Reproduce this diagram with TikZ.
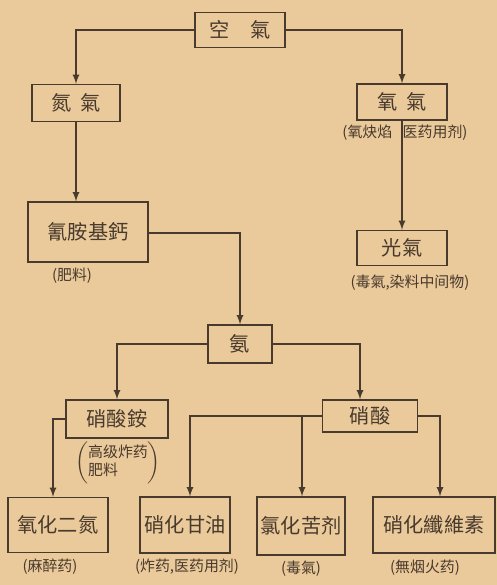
\documentclass[tikz,border=0pt]{standalone}
\usepackage{fontspec}
\newfontfamily\cjk{Noto Sans CJK SC}
\usepackage{tikz}
\usetikzlibrary{arrows,positioning}
\definecolor{paper}{RGB}{234,201,155}
\definecolor{ink}{RGB}{72,58,44}
\tikzset{
	chem/.style={draw=ink,line width=0.8pt,inner sep=0pt,font=\cjk\fontsize{11.5}{13}\selectfont,text=ink},
	use/.style={inner sep=0pt,font=\cjk\fontsize{8.5}{10}\selectfont,text=ink},
	flow/.style={draw=ink,line width=0.8pt,-latex}
}
\begin{document}
\begin{tikzpicture}[x=0.02cm,y=-0.02cm]
		\fill[paper] (0,0) rectangle (497,585);
		\useasboundingbox (0,0) rectangle (497,585);
		\node[chem,minimum width=1.8cm,minimum height=0.7cm] (air) at (240,30) {空\hspace{1em}氣};
		\node[chem,minimum width=1.76cm,minimum height=0.74cm] (nitro) at (76,103) {氮\hspace{0.4em}氣};
		\node[chem,minimum width=1.8cm,minimum height=0.72cm] (oxy) at (402,102) {氧\hspace{0.4em}氣};
		\node[use] (oxyuse) at (405,133) {(氧炔焰\hspace{0.7em}医药用剂)};
		\node[chem,minimum width=2.4cm,minimum height=1.2cm] (cyan) at (88,232) {氰胺基鈣};
		\node[use] (cyanuse) at (72,276) {(肥料)};
		\node[chem,minimum width=1.8cm,minimum height=0.7cm] (phos) at (402,248) {光氣};
		\node[use] (phosuse) at (410,283) {(毒氣,染料中间物)};
		\node[chem,minimum width=1.28cm,minimum height=0.76cm] (amm) at (240,344) {氨};
		\node[chem,minimum width=2.04cm,minimum height=0.76cm] (amnit) at (117,419) {硝酸銨};
		\node[use,anchor=north,align=left] (amnituse) at (118,441) {$\left(\vcenter{\hbox{\begin{tabular}{@{}l@{}}\cjk\fontsize{8.5}{10}\selectfont 高级炸药\\\cjk\fontsize{8.5}{10}\selectfont 肥料\end{tabular}}}\right)$};
		\node[chem,minimum width=1.9cm,minimum height=0.64cm] (nitac) at (370,416) {硝酸};
		\node[chem,minimum width=2cm,minimum height=1.1cm] (nox) at (58,525) {氧化二氮};
		\node[use] (noxuse) at (50,567) {(麻醉药)};
		\node[chem,minimum width=1.8cm,minimum height=1.12cm] (glyc) at (185,525) {硝化甘油};
		\node[use] (glycuse) at (187,567) {(炸药,医药用剂)};
		\node[chem,minimum width=1.76cm,minimum height=1.16cm] (picr) at (301,526) {氯化苦剂};
		\node[use] (picruse) at (301,569) {(毒氣)};
		\node[chem,minimum width=2.44cm,minimum height=1.12cm] (cell) at (434,525) {硝化纖維素};
		\node[use] (celluse) at (425,568) {(無烟火药)};
		\coordinate (mid) at (302,416);
		\draw[flow] (air.west) -| (nitro.north);
		\draw[flow] (air.east) -| (oxy.north);
		\draw[flow] (nitro.south) -- (nitro.south |- cyan.north);
		\draw[flow] (oxy.south) -- (phos.north);
		\draw[flow] (cyan.east |- 0,233) -| (amm.north);
		\draw[flow] (amm.west) -| (amnit.north);
		\draw[flow] (amm.east) -| ([xshift=-0.2cm]nitac.north);
		\draw[flow] (amnit.west) -| (nox.north -| 53,0);
		\draw[flow] (nitac.west) -| (glyc.north -| 190,0);
		\draw[flow] (mid) -- (mid |- picr.north);
		\draw[flow] (nitac.east) -| (cell.north -| 440,0);
	\end{tikzpicture}
\end{document}
